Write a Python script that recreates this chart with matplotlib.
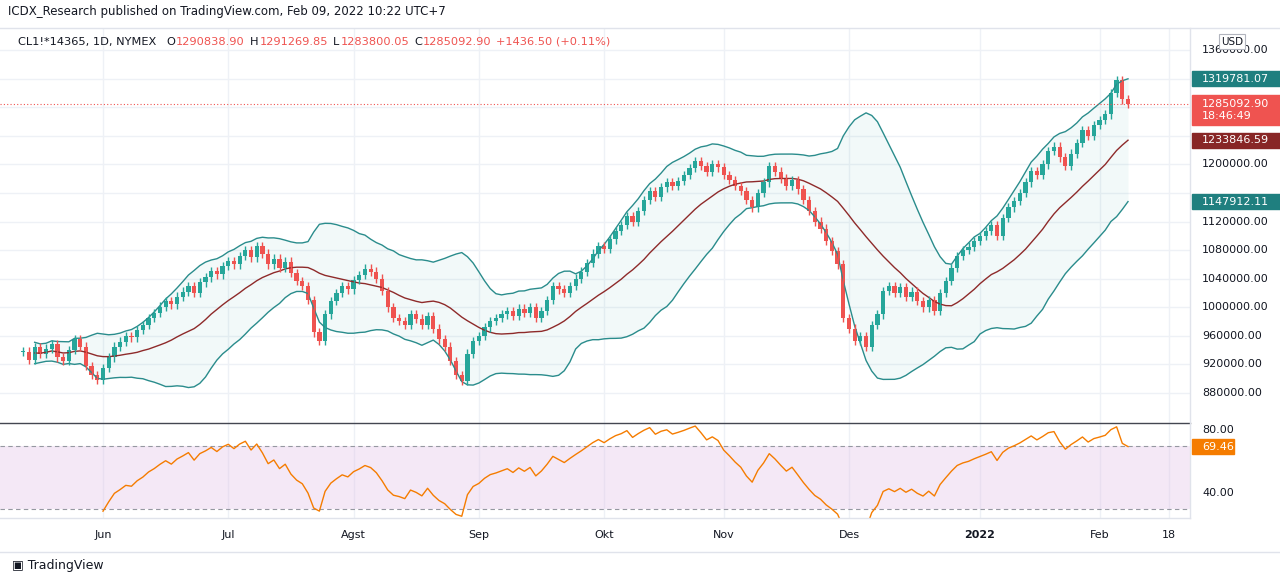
import numpy as np
import pandas as pd
import matplotlib
matplotlib.use("Agg")
import matplotlib.pyplot as plt

# daily closes (thousands)
closes_k = [
    938, 926, 944,
    935, 942, 948, 930, 925, 940, 955, 945, 918, 905, 898, 915, 930, 945, 952, 960,
    958, 968, 975, 985, 992, 1001, 1009, 1004, 1015, 1022, 1030, 1020, 1035, 1042, 1051, 1046, 1058, 1065, 1060, 1072, 1080, 1070,
    1086, 1075, 1060, 1068, 1055, 1064, 1048, 1037, 1030, 1010, 965, 953, 990, 1009, 1020, 1030, 1025, 1038, 1045, 1054, 1050,
    1040, 1023, 1000, 985, 981, 975, 990, 984, 975, 988, 970, 955, 945, 925, 905, 897, 935, 953, 960, 972, 981,
    985, 990, 995, 988, 998, 992, 1000, 985, 995, 1010, 1030, 1025, 1020, 1030, 1040, 1050, 1062, 1075, 1086, 1082, 1095,
    1107, 1115, 1128, 1120, 1135, 1150, 1163, 1155, 1168, 1175, 1170, 1177, 1185, 1195, 1205, 1198, 1190, 1200, 1196, 1185, 1178,
    1170, 1163, 1150, 1140, 1160, 1175, 1198, 1190, 1180, 1170, 1178, 1165, 1150, 1135, 1120, 1110, 1093, 1079, 1060, 985, 970,
    953, 960, 945, 975, 990, 1023, 1030, 1020, 1028, 1015, 1022, 1009, 1000, 1010, 995, 1020, 1037, 1055, 1072, 1080, 1085, 1093, 1100,
    1107, 1115, 1100, 1125, 1140, 1149, 1160, 1175, 1191, 1185, 1200, 1219, 1225, 1210, 1198, 1215, 1230, 1248, 1240, 1255,
    1262, 1270, 1300, 1318, 1290.8389, 1285.0929,
]
month_labels = ["Jun", "Jul", "Agst", "Sep", "Okt", "Nov", "Des", "2022", "Feb", "18"]
price_ticks = list(range(880000, 1360001, 40000))

UP, DOWN = "#26a69a", "#ef5350"
BAND = "#2a8c8c"

closes = pd.Series(np.array(closes_k) * 1000.0)
opens = closes.shift(1).fillna(closes.iloc[0])
highs = np.maximum(opens, closes) + 6000
lows = np.minimum(opens, closes) - 6000
n = len(closes)
dates = pd.bdate_range(end="2022-02-08", periods=n)
idx = np.arange(n)

basis = closes.rolling(20, min_periods=3).mean()
sd = closes.rolling(20, min_periods=3).std(ddof=0)
upper, lower = basis + 2 * sd, basis - 2 * sd

delta = closes.diff()
gain = delta.clip(lower=0).ewm(alpha=1 / 14, adjust=False, min_periods=14).mean()
loss = (-delta.clip(upper=0)).ewm(alpha=1 / 14, adjust=False, min_periods=14).mean()
rsi = 100 - 100 / (1 + gain / loss)

fig = plt.figure(figsize=(12.8, 5.84), dpi=100)
W, H = 1280, 584
ax = fig.add_axes([0, 1 - 423 / H, 1190 / W, (423 - 28) / H])
ax2 = fig.add_axes([0, 1 - 518 / H, 1190 / W, (518 - 424) / H])

# month positions (first trading day of each month)
month_pos = [float(np.searchsorted(dates, m)) for m in pd.date_range("2021-06-01", "2022-02-01", freq="MS")]
month_pos.append((n - 1) + (pd.Timestamp("2022-02-18") - dates[-1]).days * 5 / 7)

# x scale: June at px 103, last bar at px 1128
ppb = (1128 - 103) / ((n - 1) - month_pos[0])
x0 = month_pos[0] - 103 / ppb
xlim = (x0, x0 + 1190 / ppb)

for a in (ax, ax2):
    a.set_xlim(*xlim)
    for p in month_pos:
        a.axvline(p, color="#eef1f6", lw=1, zorder=0)
    a.set_xticks([])
    a.set_yticks([])
    for s in a.spines.values():
        s.set_visible(False)

ax.set_ylim(838000, 1390900)
for t in price_ticks:
    ax.axhline(t, color="#eef1f6", lw=1, zorder=0)

ax.fill_between(idx, lower, upper, color=UP, alpha=0.06, lw=0)
ax.plot(idx, upper, color=BAND, lw=1)
ax.plot(idx, lower, color=BAND, lw=1)
ax.plot(idx, basis, color="#8e2a2a", lw=1)

colors = np.where(closes >= opens, UP, DOWN)
ax.vlines(idx, lows, highs, color=colors, lw=1)
body = np.maximum(np.abs(closes - opens), 800)
ax.bar(idx, body, bottom=np.minimum(opens, closes), width=0.75, color=colors, lw=0)
ax.axhline(closes.iloc[-1], color=DOWN, lw=0.8, ls=(0, (1, 2)))

ax2.set_ylim(24.1, 83.8)
ax2.axhspan(30, 70, color="#e1bee7", alpha=0.35, lw=0)
ax2.axhline(70, color="#9598a1", lw=0.8, ls=(0, (4, 3)))
ax2.axhline(30, color="#9598a1", lw=0.8, ls=(0, (4, 3)))
ax2.plot(idx, rsi, color="#f57c00", lw=1)

fig.add_artist(plt.Line2D([0, 1190 / W], [1 - 423 / H] * 2, color="#434651", lw=1))
fig.add_artist(plt.Line2D([1190 / W] * 2, [1 - 28 / H, 1 - 518 / H], color="#e0e3eb", lw=1))
fig.add_artist(plt.Line2D([0, 1190 / W], [1 - 518 / H] * 2, color="#e0e3eb", lw=1))
fig.add_artist(plt.Line2D([0, 1], [1 - 28 / H] * 2, color="#e0e3eb", lw=1))
fig.add_artist(plt.Line2D([0, 1], [1 - 552 / H] * 2, color="#e0e3eb", lw=1))


def fy(y):
    return 1 - y / H


def fx(x):
    return x / W


def price_y(v):
    lo, hi = ax.get_ylim()
    return 28 + (hi - v) / (hi - lo) * (423 - 28)


def box(y, text, color, h=15):
    fig.patches.append(plt.Rectangle((fx(1192), fy(y + h / 2)), 88 / W, h / H,
                                     transform=fig.transFigure, color=color, zorder=5))
    fig.text(fx(1202), fy(y), text, fontsize=8, color="white", va="center", zorder=6)


boxes_y = [price_y(upper.iloc[-1]), 110, price_y(basis.iloc[-1]), price_y(lower.iloc[-1])]
for t in price_ticks:
    ty = price_y(t)
    if all(abs(ty - by) > (22 if i == 1 else 12) for i, by in enumerate(boxes_y)):
        fig.text(fx(1202), fy(ty), f"{t:.2f}", fontsize=8, color="#131722", va="center")

box(boxes_y[0], f"{upper.iloc[-1]:.2f}", "#1f7f7f")
box(110, f"{closes.iloc[-1]:.2f}\n18:46:49", DOWN, h=30)
box(boxes_y[2], f"{basis.iloc[-1]:.2f}", "#882626")
box(boxes_y[3], f"{lower.iloc[-1]:.2f}", "#1f7f7f")

fig.patches.append(plt.Rectangle((fx(1219), fy(49)), 26 / W, 15 / H, transform=fig.transFigure,
                                 fc="white", ec="#b2b5be", lw=0.8, zorder=4))
fig.text(fx(1232), fy(42), "USD", fontsize=7.5, ha="center", va="center", color="#131722", zorder=5)


def rsi_y(v):
    lo, hi = ax2.get_ylim()
    return 424 + (hi - v) / (hi - lo) * (518 - 424)


for v in (80, 40):
    fig.text(fx(1202), fy(rsi_y(v)), f"{v:.2f}", fontsize=8, color="#131722", va="center")
fig.patches.append(plt.Rectangle((fx(1192), fy(rsi_y(rsi.iloc[-1]) + 7.5)), 42 / W, 15 / H,
                                 transform=fig.transFigure, color="#f57c00", zorder=5))
fig.text(fx(1202), fy(rsi_y(rsi.iloc[-1])), f"{rsi.iloc[-1]:.2f}", fontsize=8, color="white",
         va="center", zorder=6)

for p, lab in zip(month_pos, month_labels):
    xp = (p - xlim[0]) / (xlim[1] - xlim[0]) * 1190
    fig.text(fx(xp), fy(535), lab, fontsize=8, ha="center", va="center", color="#131722",
             fontweight="bold" if lab == "2022" else "normal")

fig.text(fx(8), fy(12), "ICDX_Research published on TradingView.com, Feb 09, 2022 10:22 UTC+7",
         fontsize=8.5, va="center", color="#131722")

# legend line, laid out piece by piece
renderer = fig.canvas.get_renderer()
pieces = [("CL1!*14365, 1D, NYMEX", "#131722", 10), ("O", "#131722", 1), ("1290838.90", DOWN, 5),
          ("H", "#131722", 1), ("1291269.85", DOWN, 5), ("L", "#131722", 1), ("1283800.05", DOWN, 5),
          ("C", "#131722", 1), ("1285092.90", DOWN, 5), ("+1436.50 (+0.11%)", DOWN, 0)]
x = 18
for txt, col, gap in pieces:
    t = fig.text(fx(x), fy(42), txt, fontsize=8.2, va="center", color=col)
    x += t.get_window_extent(renderer).width + gap

fig.text(fx(12), fy(566), "\u25a3 TradingView", fontsize=9, va="center", color="#131722")

fig.savefig("out.png", dpi=100, facecolor="white")
